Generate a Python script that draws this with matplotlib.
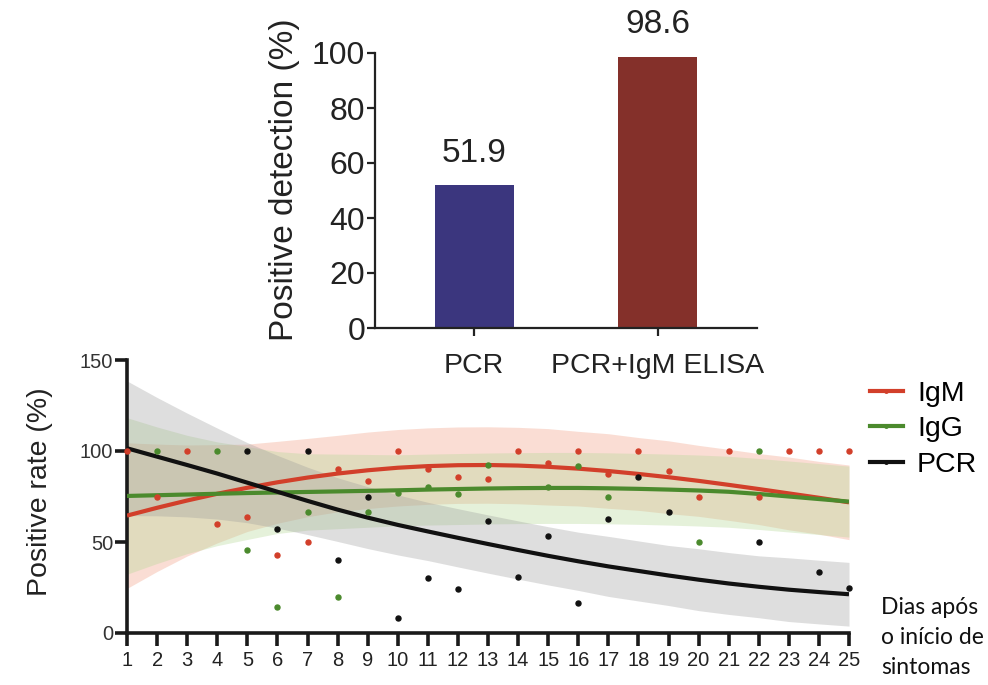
import matplotlib
matplotlib.use("Agg")
import matplotlib.pyplot as plt
from matplotlib.lines import Line2D
import numpy as np

plt.rcParams['font.family'] = ['Liberation Sans', 'DejaVu Sans']

# ---------------- data: top bar chart ----------------
bar_categories = ["PCR", "PCR+IgM ELISA"]
bar_values = [51.9, 98.6]
bar_colors = ["#3b367e", "#84302a"]
bar_yticks = [0, 20, 40, 60, 80, 100]

# ---------------- data: bottom scatter / fit chart ----------------
days = list(range(1, 26))

igm_days = [1, 2, 3, 4, 5, 6, 7, 8, 9, 10, 11, 12, 13, 14, 15, 16, 17, 18, 19, 20, 21, 22, 23, 24, 25]
igm_vals = [100, 75, 100, 60, 63.6, 42.9, 50, 90, 83.3, 100, 90, 85.7, 84.6, 100, 93.3, 100, 87.5, 100, 88.9, 75, 100, 75, 100, 100, 100]

igg_days = [2, 4, 5, 6, 7, 8, 9, 10, 11, 12, 13, 15, 16, 17, 20, 22]
igg_vals = [100, 100, 45.5, 14.3, 66.7, 20, 66.7, 77, 80, 76.2, 92.3, 80, 91.7, 75, 50, 100]

pcr_days = [5, 6, 7, 8, 9, 10, 11, 12, 13, 14, 15, 16, 17, 18, 19, 22, 24, 25]
pcr_vals = [100, 57.1, 100, 40, 75, 8.3, 30, 24, 61.5, 30.8, 53.3, 16.7, 62.5, 85.7, 66.7, 50, 33.3, 25]

# fitted curves (at each day)
igm_fit = [64.5, 68.8, 72.8, 76.5, 79.8, 82.8, 85.4, 87.6, 89.4, 90.8, 91.7, 92.2, 92.3, 92.0, 91.3,
           90.3, 89.0, 87.4, 85.6, 83.6, 81.4, 79.1, 76.7, 74.3, 71.8]
igg_fit = [75.3, 75.7, 76.1, 76.5, 76.9, 77.2, 77.5, 77.8, 78.1, 78.4, 78.8, 79.1, 79.4, 79.6, 79.7,
           79.7, 79.5, 79.2, 78.8, 78.3, 77.6, 76.4, 75.0, 73.6, 72.2]
pcr_fit = [101.5, 96.9, 92.3, 87.6, 82.6, 77.6, 72.6, 67.8, 63.4, 59.4, 55.8, 52.3, 48.9, 45.6, 42.4,
           39.4, 36.6, 34.1, 31.6, 29.3, 27.2, 25.4, 23.8, 22.5, 21.3]

# confidence band half-widths
igm_ci = [40, 35, 30.5, 27, 24, 22.5, 21.5, 21, 21, 21, 21, 21, 21, 21, 21,
          20.5, 20.5, 20, 20, 19.5, 19.5, 19.5, 20, 20, 20.5]
igg_ci = [43, 37.5, 32.5, 28.5, 25.5, 22.5, 21, 20.5, 20, 19.5, 19.5, 19.5, 19.5, 19.5, 19.5,
          19.5, 19.5, 19.5, 19.5, 19.5, 19.5, 19.5, 19.5, 19.5, 19.5]
pcr_ci = [37, 32.5, 28.5, 25, 22, 20, 18.5, 17.5, 17, 16.5, 16, 16, 16, 16, 16,
          16, 16.5, 16.5, 16.5, 17, 17, 17, 17.5, 17.5, 17.5]

series_names = ["IgM", "IgG", "PCR"]
line_colors = ["#d23f2a", "#4b8a2d", "#111111"]
band_colors = ["#f3a88f", "#b5d896", "#9a9a9a"]
band_alphas = [0.38, 0.35, 0.32]
y2_ticks = [0, 50, 100, 150]

# ---------------- figure ----------------
W, H = 988, 685
fig = plt.figure(figsize=(W / 100, H / 100), dpi=100)

def fx(px):
    return px / W

def fy(py):
    return 1 - py / H

# ---- bottom chart (drawn first, transparent background) ----
ax2 = fig.add_axes([fx(127), fy(633), fx(849) - fx(127), fy(360) - fy(633)])
ax2.set_facecolor("none")
fits = [igm_fit, igg_fit, pcr_fit]
cis = [igm_ci, igg_ci, pcr_ci]
pts = [(igm_days, igm_vals), (igg_days, igg_vals), (pcr_days, pcr_vals)]

d = np.array(days)
for fit, ci, bc, ba in zip(fits, cis, band_colors, band_alphas):
    f = np.array(fit)
    c = np.array(ci)
    ax2.fill_between(d, f - c, f + c, color=bc, alpha=ba, linewidth=0, zorder=1)
for fit, lc in zip(fits, line_colors):
    ax2.plot(d, fit, color=lc, linewidth=3.0, zorder=3, solid_capstyle="butt")
for (pd_, pv), lc in zip(pts, line_colors):
    ax2.plot(pd_, pv, linestyle="none", marker="o", markersize=3.6, color=lc,
             zorder=4, clip_on=False)

ax2.set_xlim(1, 25)
ax2.set_ylim(0, 150)
ax2.set_xticks(days)
ax2.set_xticklabels([str(v) for v in days], fontsize=14.5, color="#222222")
ax2.set_yticks(y2_ticks)
ax2.set_yticklabels([str(t) for t in y2_ticks], fontsize=14.5, color="#333333")
for s in ["top", "right"]:
    ax2.spines[s].set_visible(False)
for s in ["left", "bottom"]:
    ax2.spines[s].set_linewidth(2.6)
    ax2.spines[s].set_color("#1a1a1a")
ax2.tick_params(axis="both", direction="out", length=9, width=2.6, color="#1a1a1a")
ax2.tick_params(axis="x", pad=4)
ax2.tick_params(axis="y", pad=1)
fig.text(fx(40), fy(492), "Positive rate (%)", rotation=90, ha="center", va="center",
         fontsize=20.5, color="#222222")

# ---- top bar chart ----
ax1 = fig.add_axes([fx(375), fy(328), fx(757) - fx(375), fy(53) - fy(328)])
ax1.set_facecolor("none")
xpos = np.arange(len(bar_categories))
ax1.bar(xpos, bar_values, width=0.43, color=bar_colors)
for x, v in zip(xpos, bar_values):
    ax1.annotate(f"{v}", (x, v), xytext=(0, 12), textcoords="offset points",
                 ha="center", va="bottom", fontsize=24, color="#222222")
ax1.set_xlim(-0.54, 1.54)
ax1.set_ylim(0, 100)
ax1.set_xticks(xpos)
ax1.set_xticklabels(bar_categories, fontsize=20.5, color="#222222")
ax1.set_yticks(bar_yticks)
ax1.set_yticklabels([str(t) for t in bar_yticks], fontsize=23, color="#222222")
for s in ["top", "right"]:
    ax1.spines[s].set_visible(False)
for s in ["left", "bottom"]:
    ax1.spines[s].set_linewidth(1.6)
    ax1.spines[s].set_color("#222222")
ax1.tick_params(axis="both", direction="out", length=6, width=1.6, color="#222222")
ax1.tick_params(axis="x", pad=12)
ax1.tick_params(axis="y", pad=1)
fig.text(fx(285), fy(180), "Positive detection (%)", rotation=90, ha="center", va="center",
         fontsize=24, color="#222222")

handles = [Line2D([0], [0], color=lc, linewidth=3.0, marker="o", markersize=2.5)
           for lc in line_colors]
fig.legend(handles, series_names, loc="upper left", bbox_to_anchor=(fx(870), fy(381)),
           frameon=False, fontsize=20.5, handlelength=1.15, handletextpad=0.5,
           labelspacing=0.33, borderpad=0, borderaxespad=0)

for txt, py in [("Dias após", 607), ("o início de", 637), ("sintomas", 667)]:
    fig.text(fx(881), fy(py), txt, ha="left", va="center", fontsize=16.5,
             family=["Lato", "DejaVu Sans"], color="#111111")

fig.savefig("out.png", dpi=100)
